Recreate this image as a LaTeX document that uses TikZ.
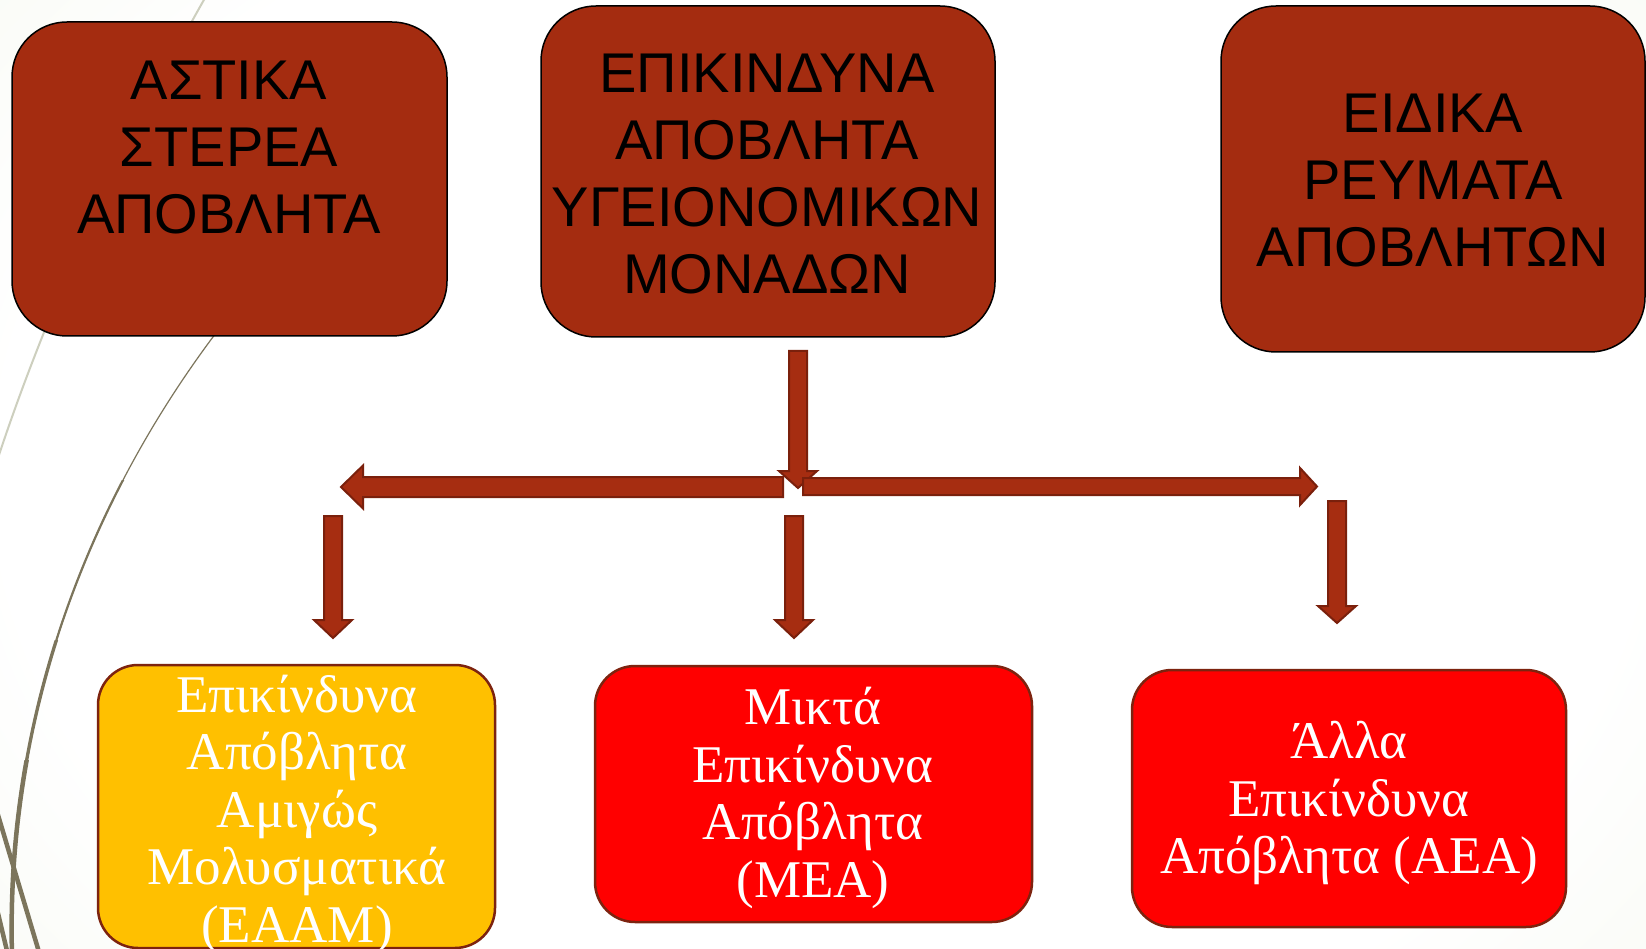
\documentclass[tikz,border=0pt]{standalone}
\usepackage{fontspec}
\setmainfont{Liberation Serif}
\newfontfamily\sansgr{Liberation Sans}
\definecolor{boxbrown}{RGB}{164,44,16}
\definecolor{arrowfill}{RGB}{166,45,17}
\definecolor{arrowline}{RGB}{122,32,12}
\definecolor{oliveline}{RGB}{124,117,92}
\definecolor{bggreen}{RGB}{224,233,205}
\definecolor{lightline}{RGB}{205,207,190}
\definecolor{goldbox}{RGB}{255,192,0}
\definecolor{lowborder}{RGB}{125,35,15}
\pgfdeclareradialshading{bgshade}{\pgfpoint{0bp}{0bp}}{color(0bp)=(white); color(20bp)=(white); color(55bp)=(bggreen); color(100bp)=(bggreen)}
\newcommand{\blkdown}[4]{%
  \draw[blockarrow] ({#1-9},#2) -- ({#1+9},#2) -- ({#1+9},#3) -- ({#1+19},#3) -- (#1,#4) -- ({#1-19},#3) -- ({#1-9},#3) -- cycle;}
\newcommand{\blkhoriz}[6]{%
  \draw[blockarrow] (#1,{#4-#5}) -- (#2,{#4-#5}) -- (#2,{#4-#6}) -- (#3,#4) -- (#2,{#4+#6}) -- (#2,{#4+#5}) -- (#1,{#4+#5}) -- cycle;}
\newcommand{\bigcurve}{(250,290) .. controls (100,470) and (5,700) .. (12,955)}
\begin{document}
\begin{tikzpicture}[x=1pt,y=-1pt,
  topbox/.style={draw=black, line width=1.5pt, fill=boxbrown, rounded corners=55pt, inner sep=0pt},
  toptext/.style={font=\sansgr\fontsize{56}{67}\selectfont, text=black, align=center, inner sep=0pt},
  lowtext/.style={text=white, align=center, inner sep=0pt, font=\fontsize{53}{57.5}\selectfont},
  lowbox/.style={draw=lowborder, line width=2.5pt, rounded corners=40pt, inner sep=0pt},
  blockarrow/.style={fill=arrowfill, draw=arrowline, line width=2pt, line join=miter}]
\useasboundingbox (0,0) rectangle (1646,949);
\clip (0,0) rectangle (1646,949);
% background
\shade[shading=bgshade] (-200,-300) rectangle (1846,1249);
\draw[lightline, line width=2pt] (205,-2) .. controls (130,130) and (50,300) .. (-2,458);
\draw[oliveline, line width=1.2pt] \bigcurve;
\begin{scope}
  \clip (-10,480) rectangle (300,1000);
  \draw[oliveline, line width=2.2pt] \bigcurve;
\end{scope}
\begin{scope}
  \clip (-10,640) rectangle (300,1000);
  \draw[oliveline, line width=3.3pt] \bigcurve;
\end{scope}
\begin{scope}
  \clip (-10,760) rectangle (300,1000);
  \draw[oliveline, line width=4.5pt] \bigcurve;
\end{scope}
\draw[oliveline, line width=4.5pt] (-5,805) -- (42,962);
\draw[oliveline, line width=4.5pt] (-4,905) -- (8,955);
% top boxes
\node[topbox, minimum width=435pt, minimum height=314pt] (boxA) at (229.5,179) {};
\node[toptext] (txtA) at (229,148) {ΑΣΤΙΚΑ\\ΣΤΕΡΕΑ\\ΑΠΟΒΛΗΤΑ};
\node[topbox, minimum width=454pt, minimum height=331pt] (boxB) at (768,171.5) {};
\node[toptext] (txtB) at (767,174) {ΕΠΙΚΙΝΔΥΝΑ\\ΑΠΟΒΛΗΤΑ\\ΥΓΕΙΟΝΟΜΙΚΩΝ\\ΜΟΝΑΔΩΝ};
\node[topbox, minimum width=424pt, minimum height=346pt] (boxC) at (1433,179) {};
\node[toptext] (txtC) at (1433,181) {ΕΙΔΙΚΑ\\ΡΕΥΜΑΤΑ\\ΑΠΟΒΛΗΤΩΝ};
% bottom boxes
\node[lowbox, fill=goldbox, minimum width=397pt, minimum height=283pt] (boxD) at (296.5,806.5) {};
\node[lowtext] (txtD) at (297,814) {Επικίνδυνα\\Απόβλητα\\Αμιγώς\\Μολυσματικά\\(ΕΑΑΜ)};
\node[lowbox, fill=red, minimum width=437pt, minimum height=256pt] (boxE) at (813.5,794) {};
\node[lowtext] (txtE) at (813,798) {Μικτά\\Επικίνδυνα\\Απόβλητα\\(ΜΕΑ)};
\node[lowbox, fill=red, minimum width=434pt, minimum height=257pt] (boxF) at (1349,798.5) {};
\node[lowtext] (txtF) at (1349,803) {Άλλα\\Επικίνδυνα\\Απόβλητα (ΑΕΑ)};
% arrows
\blkdown{798}{351}{471}{488}
\blkhoriz{783}{363}{341}{487}{10}{21.5}
\blkhoriz{803}{1300}{1317}{486.5}{8.5}{18.5}
\blkdown{333}{516}{620}{638}
\blkdown{794}{516}{620}{638}
\blkdown{1337}{501}{606}{623}
\end{tikzpicture}
\end{document}
